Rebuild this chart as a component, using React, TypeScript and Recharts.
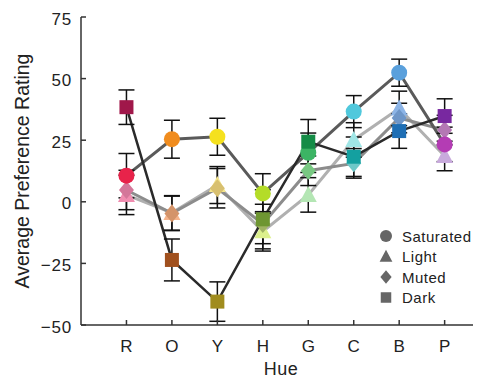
import React from 'react';
import { ComposedChart, Line, XAxis, YAxis, ErrorBar } from 'recharts';

const hues = ['R', 'O', 'Y', 'H', 'G', 'C', 'B', 'P'];
const yTicks = [-50, -25, 0, 25, 50, 75];

const saturated = [10.6, 25.4, 26.4, 3.4, 19.9, 36.6, 52.4, 23.3];
const light = [2.8, -4.5, 6.8, -12, 2.8, 25.1, 37.9, 18.6];
const muted = [4.8, -4.7, 5.5, -9, 12.6, 15.6, 34, 29.1];
const dark = [38.4, -23.6, -40.5, -7.1, 24.4, 18.3, 28.7, 34.8];

const saturatedErr = [9, 7.7, 7.5, 8, 8, 6.5, 5.5, 7];
const lightErr = [8, 7, 7.5, 8, 7, 7, 7, 6];
const mutedErr = [8, 7, 8, 8, 6, 6, 6, 6];
const darkErr = [7, 8.5, 8, 12, 9, 8, 7, 7];

const saturatedColors = ['#e8234a', '#f08c1e', '#f5e11e', '#b4dc28', '#3cb464', '#50c8dc', '#5aa0dc', '#b43cb4'];
const lightColors = ['#f08db0', '#f5b48c', '#f5e68c', '#dcf08c', '#b4e6b4', '#a0e6e6', '#8cb4e6', '#c8aadc'];
const mutedColors = ['#d4779a', '#d4946a', '#d8c070', '#a0b464', '#78c882', '#6ec8c8', '#6e96c8', '#b478b4'];
const darkColors = ['#a0174a', '#a0501e', '#a08c1e', '#6e9632', '#148c46', '#14a0a0', '#1e6eb4', '#7828a0'];

const seriesNames = ['Saturated', 'Light', 'Muted', 'Dark'];
const seriesShapes = ['circle', 'triangle', 'diamond', 'square'];

const data = hues.map((h, i) => ({
  hue: h,
  x: i + 1,
  sat: saturated[i],
  satErr: saturatedErr[i],
  light: light[i],
  lightErr: lightErr[i],
  muted: muted[i],
  mutedErr: mutedErr[i],
  dark: dark[i],
  darkErr: darkErr[i],
}));

const FONT = '"Liberation Sans", Arial, Helvetica, sans-serif';

function Marker({ shape, cx, cy, fill, s = 1 }: any) {
  if (cx == null || cy == null) return null;
  if (shape === 'circle') return <circle cx={cx} cy={cy} r={8 * s} fill={fill} />;
  if (shape === 'square') return <rect x={cx - 7 * s} y={cy - 7 * s} width={14 * s} height={14 * s} fill={fill} />;
  if (shape === 'triangle')
    return <polygon points={`${cx},${cy - 9 * s} ${cx + 8.5 * s},${cy + 7 * s} ${cx - 8.5 * s},${cy + 7 * s}`} fill={fill} />;
  return <polygon points={`${cx},${cy - 9 * s} ${cx + 7.5 * s},${cy} ${cx},${cy + 9 * s} ${cx - 7.5 * s},${cy}`} fill={fill} />;
}

const makeDot = (shape: string, colors: string[]) => (props: any) => {
  const { cx, cy, index } = props;
  return <Marker key={`${shape}-${index}`} shape={shape} cx={cx} cy={cy} fill={colors[index]} />;
};

const YTick = (props: any) => {
  const { x, y, payload } = props;
  const v = payload.value;
  const label = v < 0 ? `\u2212${Math.abs(v)}` : `${v}`;
  return (
    <g>
      <line x1={x} x2={x + 5} y1={y} y2={y} stroke="#333" strokeWidth={1.5} />
      <text x={x - 9} y={y + 2} textAnchor="end" dominantBaseline="central" fontFamily={FONT} fontSize={17} letterSpacing={0.8} fill="#222">
        {label}
      </text>
    </g>
  );
};

const XTick = (props: any) => {
  const { x, y, payload } = props;
  return (
    <g>
      <line x1={x} x2={x} y1={y} y2={y - 5} stroke="#333" strokeWidth={1.5} />
      <text x={x} y={y + 21} textAnchor="middle" dominantBaseline="central" fontFamily={FONT} fontSize={17} fill="#222">
        {hues[payload.value - 1]}
      </text>
    </g>
  );
};

const LegendBox = () => (
  <svg width={110} height={84} style={{ position: 'absolute', left: 370, top: 218 }}>
    {seriesNames.map((n, i) => (
      <g key={n}>
        <Marker shape={seriesShapes[i]} cx={8} cy={10 + i * 20.5} fill="#666" s={0.75} />
        <text x={24} y={10 + i * 20.5} dominantBaseline="central" fontFamily={FONT} fontSize={15} letterSpacing={0.5} fill="#222">
          {n}
        </text>
      </g>
    ))}
  </svg>
);

export default function App() {
  return (
    <div style={{ position: 'relative', width: 473, height: 371 }}>
      <ComposedChart width={473} height={371} data={data} margin={{ top: 9, right: 0, bottom: 0, left: 0 }}>
        <XAxis
          dataKey="x"
          type="number"
          domain={[0, 8.8]}
          ticks={[1, 2, 3, 4, 5, 6, 7, 8]}
          allowDataOverflow
          height={54}
          tickSize={0}
          tickMargin={0}
          tick={<XTick />}
          axisLine={{ stroke: '#333', strokeWidth: 1.5 }}
          tickLine={false}
          label={(p: any) => {
            const vb = p.viewBox;
            return (
              <text x={vb.x + vb.width / 2} y={vb.y + 44} textAnchor="middle" dominantBaseline="central" fontFamily={FONT} fontSize={18} letterSpacing={0.5} fill="#222">
                Hue
              </text>
            );
          }}
        />
        <YAxis
          type="number"
          domain={[-50, 75]}
          ticks={yTicks}
          allowDataOverflow
          width={73}
          tickSize={0}
          tickMargin={0}
          tick={<YTick />}
          axisLine={{ stroke: '#333', strokeWidth: 1.5 }}
          tickLine={false}
          label={(p: any) => {
            const vb = p.viewBox;
            const cx = vb.x + 14;
            const cy = vb.y + vb.height / 2;
            return (
              <text x={cx} y={cy} textAnchor="middle" dominantBaseline="central" transform={`rotate(-90 ${cx} ${cy})`} fontFamily={FONT} fontSize={19.5} fill="#222">
                Average Preference Rating
              </text>
            );
          }}
        />
        <Line dataKey="light" name="Light" type="linear" stroke="#b0b0b0" strokeWidth={3} dot={makeDot('triangle', lightColors)} activeDot={false} isAnimationActive={false} />
        <Line dataKey="muted" name="Muted" type="linear" stroke="#8c8c8c" strokeWidth={3} dot={makeDot('diamond', mutedColors)} activeDot={false} isAnimationActive={false} />
        <Line dataKey="sat" name="Saturated" type="linear" stroke="#5a5a5a" strokeWidth={3} dot={makeDot('circle', saturatedColors)} activeDot={false} isAnimationActive={false} />
        <Line dataKey="dark" name="Dark" type="linear" stroke="#2a2a2a" strokeWidth={2.5} dot={makeDot('square', darkColors)} activeDot={false} isAnimationActive={false} />
        <Line dataKey="light" stroke="none" dot={false} activeDot={false} legendType="none" isAnimationActive={false}>
          <ErrorBar dataKey="lightErr" width={8} stroke="#111" strokeWidth={1.5} direction="y" isAnimationActive={false} />
        </Line>
        <Line dataKey="muted" stroke="none" dot={false} activeDot={false} legendType="none" isAnimationActive={false}>
          <ErrorBar dataKey="mutedErr" width={8} stroke="#111" strokeWidth={1.5} direction="y" isAnimationActive={false} />
        </Line>
        <Line dataKey="sat" stroke="none" dot={false} activeDot={false} legendType="none" isAnimationActive={false}>
          <ErrorBar dataKey="satErr" width={8} stroke="#111" strokeWidth={1.5} direction="y" isAnimationActive={false} />
        </Line>
        <Line dataKey="dark" stroke="none" dot={false} activeDot={false} legendType="none" isAnimationActive={false}>
          <ErrorBar dataKey="darkErr" width={8} stroke="#111" strokeWidth={1.5} direction="y" isAnimationActive={false} />
        </Line>
      </ComposedChart>
      <LegendBox />
    </div>
  );
}
